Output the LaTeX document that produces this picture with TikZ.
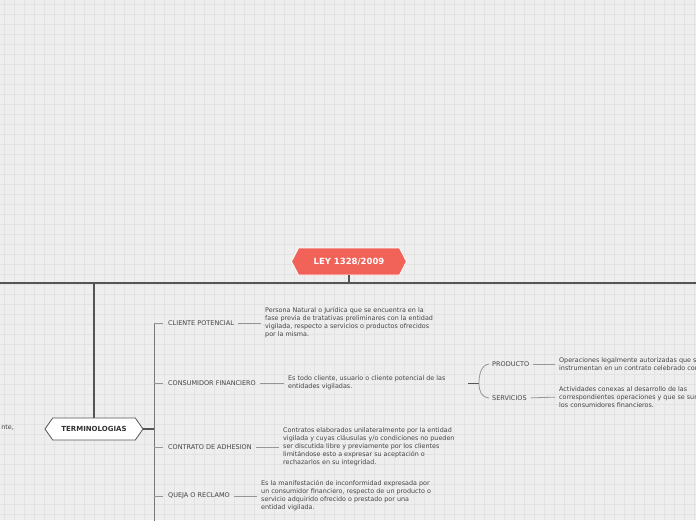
\documentclass[tikz,border=0pt]{standalone}
\usepackage{fontspec}
\setmainfont{DejaVu Sans}
\usepackage{tikz}
\usetikzlibrary{shapes.symbols}
\definecolor{mBack}{RGB}{238,238,238}
\definecolor{mGrid}{RGB}{227,227,227}
\definecolor{mRoot}{RGB}{241,98,89}
\definecolor{mLine}{RGB}{85,85,85}
\definecolor{mThin}{RGB}{150,150,150}
\definecolor{mText}{RGB}{68,68,68}
\tikzset{
  root/.style={signal, signal to=east and west, signal pointer angle=125,
               fill=mRoot, draw=white, line width=0.8pt, text=white,
               font=\fontsize{8.5}{10}\selectfont\bfseries,
               minimum width=115pt, minimum height=27pt, inner sep=0pt},
  main/.style={signal, signal to=east and west, signal pointer angle=110,
               fill=white, draw=mLine, line width=0.8pt, text=black!80,
               font=\fontsize{7}{8}\selectfont\bfseries,
               minimum width=98pt, minimum height=22pt, inner sep=0pt},
  term/.style={anchor=west, inner sep=0pt, text=mText,
               font=\fontsize{6.5}{8}\selectfont},
  desc/.style={anchor=west, inner sep=0pt, text=mText, align=left,
               font=\fontsize{6.4}{8}\selectfont},
  trunk/.style={draw=mLine, line width=1.3pt},
  stub/.style={draw=mLine, line width=1pt},
  branch/.style={draw=mThin, line width=0.8pt},
  link/.style={draw=mThin, line width=0.8pt, shorten <=4pt, shorten >=4pt},
}

\begin{document}
\begin{tikzpicture}[x=1pt, y=-1pt]
  % canvas and grid
  \useasboundingbox (0,0) rectangle (696,520);
  \fill[mBack] (0,0) rectangle (696,520);
  \foreach \g in {4,14,...,694} \draw[mGrid, line width=0.6pt] (\g,0) -- (\g,520);
  \foreach \g in {4,14,...,514} \draw[mGrid, line width=0.6pt] (0,\g) -- (696,\g);

  % root and main topic
  \node[root] (ley) at (349,261.5){LEY 1328/2009};
  \node[main] (term) at (94,429){TERMINOLOGIAS};
  \coordinate (hub) at (349,283);
  \coordinate (hubL) at (0,283);
  \coordinate (hubR) at (696,283);
  \coordinate (drop) at (94,283);
  \draw[trunk] (ley.south) -- (hub);
  \draw[trunk] (hubL) -- (hubR);
  \draw[trunk] (drop) -- (term.north);

  % text cut off at the left edge
  \node[desc, anchor=east] (cut) at (14,428){nte,};

  % terms
  \coordinate (spine) at (154,429);
  \coordinate (spineTop) at (154,323);
  \coordinate (spineBot) at (154,530);
  \draw[trunk, line width=2pt] (term.east) -- (spine);
  \draw[branch, draw=mLine!80] (spineTop) -- (spineBot);

  \node[term] (t1) at (168,323){CLIENTE POTENCIAL};
  \node[term] (t2) at (168,383){CONSUMIDOR FINANCIERO};
  \node[term] (t3) at (168,447){CONTRATO DE ADHESION};
  \node[term] (t4) at (168,496){QUEJA O RECLAMO};

  \node[desc] (d1) at (265,323){Persona Natural o Jurídica que se encuentra en la\\
    fase previa de tratativas preliminares con la entidad\\
    vigilada, respecto a servicios o productos ofrecidos\\por la misma.};
  \node[desc] (d2) at (288,383){Es todo cliente, usuario o cliente potencial de las\\
    entidades vigiladas.};
  \node[desc] (d3) at (283,447){Contratos elaborados unilateralmente por la entidad\\
    vigilada y cuyas cláusulas y/o condiciones no pueden\\
    ser discutida libre y previamente por los clientes\\
    limitándose esto a expresar su aceptación o\\rechazarlos en su integridad.};
  \node[desc] (d4) at (261,496){Es la manifestación de inconformidad expresada por\\
    un consumidor financiero, respecto de un producto o\\
    servicio adquirido ofrecido o prestado por una\\entidad vigilada.};

  \draw[branch, shorten >=5pt] (spine |- t1) -- (t1.west);
  \draw[branch, shorten >=5pt] (spine |- t2) -- (t2.west);
  \draw[branch, shorten >=5pt] (spine |- t3) -- (t3.west);
  \draw[branch, shorten >=5pt] (spine |- t4) -- (t4.west);

  \draw[link] (t1.east) -- (d1.west);
  \draw[link] (t2.east) -- (d2.west);
  \draw[link] (t3.east) -- (d3.west);
  \draw[link] (t4.east) -- (d4.west);

  % consumidor financiero -- producto / servicios
  \node[term] (p1) at (492,364){PRODUCTO};
  \node[term] (p2) at (492,398){SERVICIOS};
  \node[desc] (e1) at (559,364){Operaciones legalmente autorizadas que se\\
    instrumentan en un contrato celebrado con el};
  \node[desc] (e2) at (559,397){Actividades conexas al desarrollo de las\\
    correspondientes operaciones y que se suministran a\\
    los consumidores financieros.};

  \coordinate (forkIn) at (468,383);
  \coordinate (fork) at (479,383);
  \draw[stub] (forkIn) -- (fork);
  \draw[branch] ([xshift=-3pt]p1.west) .. controls +(-8,1) and +(0,-8) .. (fork)
                .. controls +(0,8) and +(-8,-1) .. ([xshift=-3pt]p2.west);

  \draw[link] (p1.east) -- (e1.west);
  \draw[link] (p2.east) -- (e2.west);
\end{tikzpicture}
\end{document}
